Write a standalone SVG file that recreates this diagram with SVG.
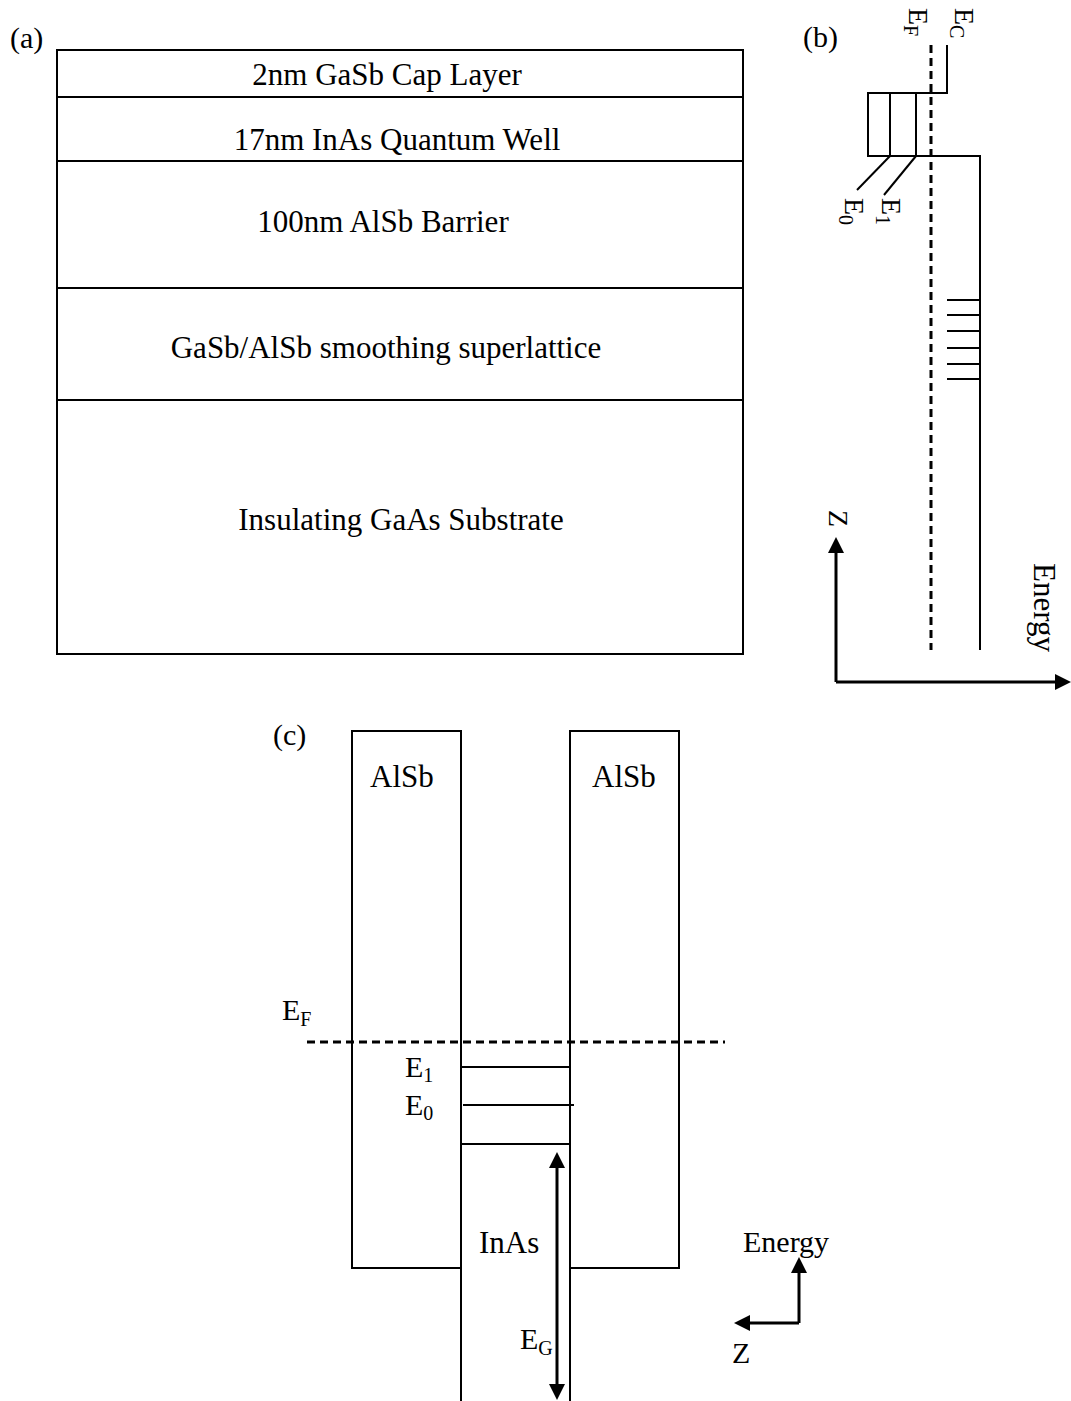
<svg xmlns="http://www.w3.org/2000/svg" width="1071" height="1401" viewBox="0 0 1071 1401">
<style>
text{font-family:"Liberation Serif","Times New Roman",serif;fill:#000}
.t{font-size:31px}
.lbl{font-size:30px}
.ln{stroke:#000;stroke-width:2;fill:none}
.thk{stroke:#000;stroke-width:3;fill:none}
.dash{stroke:#000;stroke-width:3;stroke-dasharray:8 5;fill:none}
.re{font-size:28px}
.rs{font-size:20px}
</style>
<defs>
<marker id="ah" markerWidth="18" markerHeight="18" refX="0" refY="8" orient="auto-start-reverse" markerUnits="userSpaceOnUse"><path d="M0,0 L16,8 L0,16 Z" fill="#000"/></marker>
</defs>
<rect width="1071" height="1401" fill="#fff"/>

<!-- Panel (a) -->
<text class="lbl" x="10" y="48">(a)</text>
<g id="layer-cap"><rect class="ln" x="57" y="50" width="686" height="47"/><text class="t" x="387" y="85" text-anchor="middle">2nm GaSb Cap Layer</text></g>
<g id="layer-qw"><rect class="ln" x="57" y="97" width="686" height="64"/><text class="t" x="397" y="150" text-anchor="middle">17nm InAs Quantum Well</text></g>
<g id="layer-barrier"><rect class="ln" x="57" y="161" width="686" height="127"/><text class="t" x="383" y="232" text-anchor="middle">100nm AlSb Barrier</text></g>
<g id="layer-sl"><rect class="ln" x="57" y="288" width="686" height="112"/><text class="t" x="386" y="358" text-anchor="middle">GaSb/AlSb smoothing superlattice</text></g>
<g id="layer-sub"><rect class="ln" x="57" y="400" width="686" height="254"/><text class="t" x="401" y="530" text-anchor="middle">Insulating GaAs Substrate</text></g>

<!-- Panel (b) -->
<text class="lbl" x="803" y="47">(b)</text>
<g id="b-band">
<path class="ln" d="M947,45 L947,93 L868,93 L868,156 L980,156 L980,650"/>
<line class="ln" x1="890" y1="93" x2="890" y2="156"/>
<line class="ln" x1="916" y1="93" x2="916" y2="156"/>
<line class="ln" x1="890" y1="156" x2="857" y2="190"/>
<line class="ln" x1="916" y1="156" x2="884" y2="195"/>
<path class="ln" d="M947,300 H980 M947,315 H980 M947,331 H980 M947,348 H980 M947,364 H980 M947,379 H980"/>
</g>
<g id="b-ef"><line class="dash" x1="931" y1="45" x2="931" y2="650"/></g>
<g id="b-labels">
<text class="re" transform="translate(955,8) rotate(90)">E<tspan class="rs" dy="5">C</tspan></text>
<text class="re" transform="translate(909,8) rotate(90)">E<tspan class="rs" dy="5">F</tspan></text>
<text class="re" transform="translate(845,198) rotate(90)">E<tspan class="rs" dy="6">0</tspan></text>
<text class="re" transform="translate(882,198) rotate(90)">E<tspan class="rs" dy="6">1</tspan></text>
<text transform="translate(829,510) rotate(90)" font-size="28">Z</text>
<text transform="translate(1034,563) rotate(90)" font-size="31">Energy</text>
</g>
<g id="b-axes">
<line class="thk" x1="836" y1="682" x2="836" y2="553" marker-end="url(#ah)"/>
<line class="thk" x1="836" y1="682" x2="1055" y2="682" marker-end="url(#ah)"/>
</g>

<!-- Panel (c) -->
<text class="lbl" x="273" y="745">(c)</text>
<g id="c-alsb-left"><rect class="ln" x="352" y="731" width="109" height="537"/><text class="t" x="370" y="787">AlSb</text></g>
<g id="c-alsb-right"><rect class="ln" x="570" y="731" width="109" height="537"/><text class="t" x="592" y="787">AlSb</text></g>
<g id="c-inas">
<path class="ln" d="M461,1268 V1401 M570,1268 V1401"/>
<line class="ln" x1="461" y1="1144" x2="570" y2="1144"/>
<text class="t" x="479" y="1253">InAs</text>
</g>
<g id="c-levels">
<line class="ln" x1="461" y1="1067" x2="570" y2="1067" stroke-width="1.5"/>
<line class="ln" x1="463" y1="1105" x2="574" y2="1105" stroke-width="1.5"/>
<text x="405" y="1077" font-size="30">E<tspan font-size="20" dy="5">1</tspan></text>
<text x="405" y="1115" font-size="30">E<tspan font-size="20" dy="5">0</tspan></text>
</g>
<g id="c-ef">
<line class="dash" x1="307" y1="1042" x2="725" y2="1042" stroke-width="2.5" stroke-dasharray="9 5"/>
<text x="282" y="1020" font-size="30">E<tspan font-size="20" dy="6">F</tspan></text>
</g>
<g id="c-eg">
<line class="thk" x1="557" y1="1168" x2="557" y2="1384" marker-start="url(#ah)" marker-end="url(#ah)"/>
<text x="520" y="1349" font-size="30">E<tspan font-size="20" dy="6">G</tspan></text>
</g>
<g id="c-axes">
<line class="thk" x1="799" y1="1323" x2="799" y2="1273" marker-end="url(#ah)"/>
<line class="thk" x1="799" y1="1323" x2="750" y2="1323" marker-end="url(#ah)"/>
<text x="743" y="1252" font-size="30">Energy</text>
<text x="732" y="1363" font-size="30">Z</text>
</g>
</svg>
